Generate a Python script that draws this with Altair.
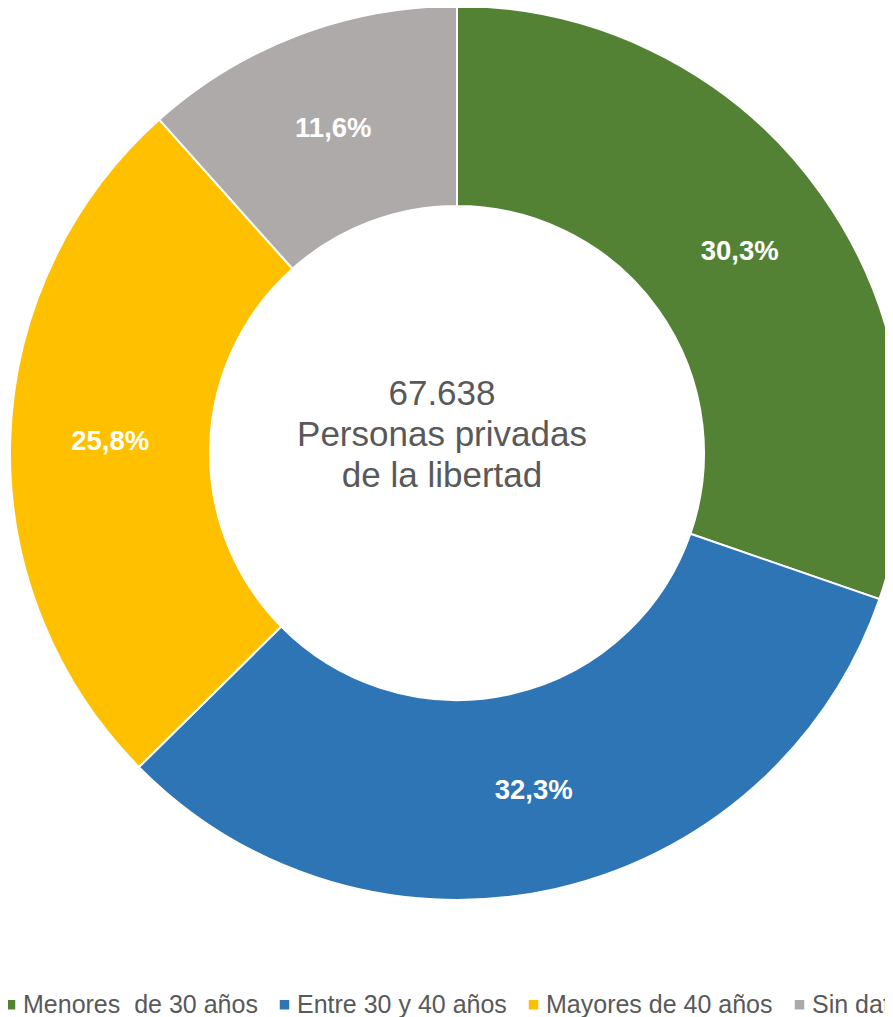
import altair as alt
import pandas as pd

categorias = ["Menores \u00a0de 30 años", "Entre 30 y 40 años", "Mayores de 40 años", "Sin datos"]
porcentajes = [30.3, 32.3, 25.8, 11.6]
etiquetas = ["30,3%", "32,3%", "25,8%", "11,6%"]
colores = ["#548235", "#2E75B6", "#FFC000", "#AEAAAA"]
centro = ["67.638", "Personas privadas", "de la libertad"]

df = pd.DataFrame({
    "cat": categorias,
    "pct": porcentajes,
    "label": etiquetas,
    "orden": list(range(len(categorias))),
})
df_centro = pd.DataFrame({"t": ["\n".join(centro)]})

CX, CY = 449, 445

base = alt.Chart(df).encode(
    theta=alt.Theta("pct:Q", stack=True),
    order=alt.Order("orden:Q"),
    x=alt.value(CX),
    y=alt.value(CY),
)

arcs = base.mark_arc(radius=447, radius2=247, stroke="white", strokeWidth=2).encode(
    color=alt.Color(
        "cat:N",
        scale=alt.Scale(domain=categorias, range=colores),
        sort=categorias,
        legend=alt.Legend(
            orient="none",
            legendX=-10,
            legendY=984,
            direction="horizontal",
            title=None,
            symbolType="square",
            symbolSize=90,
            symbolStrokeWidth=0,
            labelFontSize=25,
            labelFont="Liberation Sans",
            labelColor="#595959",
            labelOffset=0,
            columnPadding=14,
            padding=0,
            labelLimit=0,
        ),
    )
)

labels = base.mark_text(
    radius=347, font="Liberation Sans", fontSize=27.5, fontWeight="bold", color="white"
).encode(text="label:N")

center = alt.Chart(df_centro).mark_text(
    font="Liberation Sans", fontSize=35, color="#595959", lineBreak="\n", lineHeight=41
).encode(text="t:N", x=alt.value(434), y=alt.value(386))

chart = (
    alt.layer(arcs, labels, center)
    .properties(
        width=877,
        height=1009,
        autosize=alt.AutoSizeParams(type="none"),
        padding=0,
        background="white",
    )
    .configure_view(stroke=None, strokeWidth=0)
)

chart.save("out.html", embed_options={"renderer": "svg", "actions": False})
